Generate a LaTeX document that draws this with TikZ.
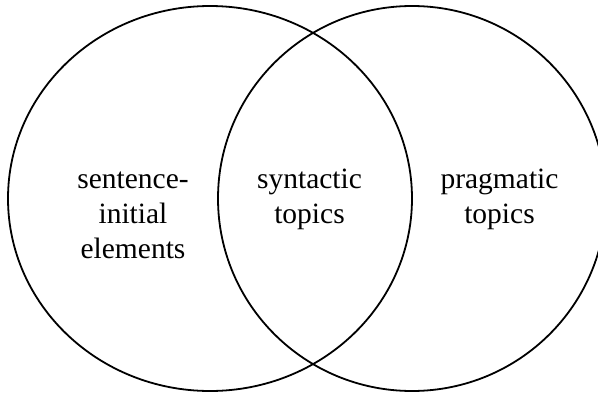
\documentclass[tikz,border=0pt]{standalone}
\usepackage{fontspec}
\setmainfont{Liberation Serif}
\usetikzlibrary{shapes.geometric}
\begin{document}
\begin{tikzpicture}[x=1pt,y=-1pt,
  setring/.style={ellipse,draw,line width=1.8pt,inner sep=0pt},
  setlabel/.style={align=center,font=\fontsize{29.5}{35}\selectfont,inner sep=0pt,anchor=base}]
\useasboundingbox (0,0) rectangle (598,394);
\clip (0,0) rectangle (598,394);
\node[setring,minimum width=404pt,minimum height=385pt] (leftset) at (210,198.5) {};
\node[setring,minimum width=388pt,minimum height=385pt] (rightset) at (412,198.5) {};
\node[setlabel] (lefttext) at (133,258) {sentence-\\initial\\elements};
\node[setlabel] (midtext) at (309.5,223) {syntactic\\topics};
\node[setlabel] (righttext) at (499.5,223) {pragmatic\\topics};
\end{tikzpicture}
\end{document}
